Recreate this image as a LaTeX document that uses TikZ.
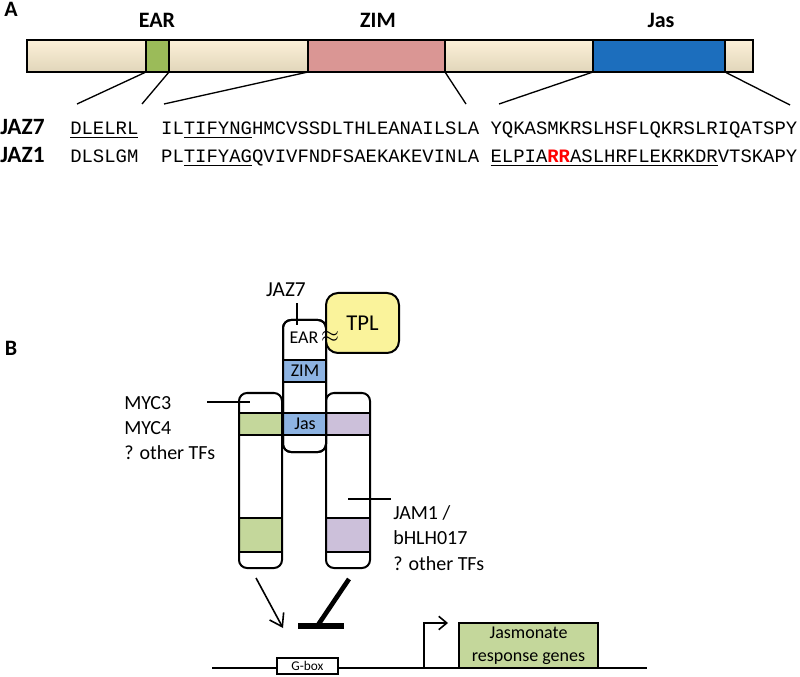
\documentclass[tikz,border=0pt]{standalone}
\usepackage{fontspec}
\setmainfont{Carlito}
\newfontfamily\seqfont{Liberation Mono}
\usetikzlibrary{arrows.meta}

\definecolor{barcream}{RGB}{252,240,216}
\definecolor{barcreamlow}{RGB}{225,214,186}
\definecolor{eargreen}{RGB}{155,187,89}
\definecolor{zimpink}{RGB}{218,150,148}
\definecolor{jasblue}{RGB}{28,110,189}
\definecolor{domblue}{RGB}{141,179,226}
\definecolor{mycgreen}{RGB}{196,215,155}
\definecolor{jampurple}{RGB}{204,192,218}
\definecolor{tplyellow}{RGB}{250,243,155}

\tikzset{
  creamseg/.style={draw, line width=1pt, top color=barcream, bottom color=barcreamlow},
  domseg/.style={draw, line width=1pt},
  domlabel/.style={inner sep=0pt, font=\bfseries\fontsize{16.5}{20}\selectfont},
  rowlabel/.style={anchor=base west, inner sep=0pt, font=\bfseries\fontsize{17.5}{20}\selectfont},
  seqtext/.style={anchor=base west, inner sep=0pt, font=\seqfont\fontsize{14.2}{17}\selectfont},
  tfbox/.style={draw, line width=1.5pt, rounded corners=6pt},
  band/.style={draw, line width=1.5pt},
  tflabel/.style={anchor=west, align=left, inner sep=0pt, font=\fontsize{15}{19}\selectfont},
  domtext/.style={inner sep=0pt, font=\fontsize{13.5}{16}\selectfont},
}

\begin{document}
\begin{tikzpicture}[x=0.75pt,y=0.75pt,yscale=-1,xscale=1]
\useasboundingbox (0,0) rectangle (800,677);

% Text Node
\node[domlabel] (panA) at (11,9) {A};
% Text Node
\node[domlabel] (panB) at (11,348) {B};

%Shape: Rectangle (domain bar)
\draw[creamseg] (27,40) rectangle (146,72);
\draw[domseg, fill=eargreen] (146,40) rectangle (169,72);
\draw[creamseg] (169,40) rectangle (308,72);
\draw[domseg, fill=zimpink] (308,40) rectangle (445,72);
\draw[creamseg] (445,40) rectangle (593,72);
\draw[domseg, fill=jasblue] (593,40) rectangle (725,72);
\draw[creamseg] (725,40) rectangle (753,72);

% Text Node
\node[domlabel] (earA) at (157,20) {EAR};
\node[domlabel] (zimA) at (378,20) {ZIM};
\node[domlabel] (jasA) at (661,20) {Jas};

\coordinate (earL) at (146,72);
\coordinate (earR) at (169,72);
\coordinate (zimL) at (308,72);
\coordinate (zimR) at (445,72);
\coordinate (jasL) at (593,72);
\coordinate (jasR) at (725,72);
\coordinate (earLs) at (77,104);
\coordinate (earRs) at (142,104);
\coordinate (zimLs) at (164,104);
\coordinate (zimRs) at (466,104);
\coordinate (jasLs) at (499,104);
\coordinate (jasRs) at (790,105);

%Straight Lines
\draw[line width=1pt] (earL) -- (earLs);
\draw[line width=1pt] (earR) -- (earRs);
\draw[line width=1pt] (zimL) -- (zimLs);
\draw[line width=1pt] (zimR) -- (zimRs);
\draw[line width=1pt] (jasL) -- (jasLs);
\draw[line width=1pt] (jasR) -- (jasRs);

% Text Node (sequences)
\node[rowlabel] (jaz7) at (0,135) {JAZ7};
\node[seqtext] (j7ear) at (70,135) {\underline{DLELRL}};
\node[seqtext] (j7zim) at (160.9,135) {IL\underline{TIFYNG}HMCVSSDLTHLEANAILSLA};
\node[seqtext] (j7jas) at (490.3,135) {YQKASMKRSLHSFLQKRSLRIQATSPY};
\node[rowlabel] (jaz1) at (0,163) {JAZ1};
\node[seqtext] (j1ear) at (70,163) {DLSLGM};
\node[seqtext] (j1zim) at (160.9,163) {PL\underline{TIFYAG}QVIVFNDFSAEKAKEVINLA};
\node[seqtext] (j1jas) at (490.3,163) {\underline{ELPIA{\color{red}\bfseries RR}ASLHRFLEKRKDR}VTSKAPY};

%Shape: MYC box
\draw[band, fill=mycgreen] (239,413) rectangle (282,435);
\draw[band, fill=mycgreen] (239,518) rectangle (282,552);
\draw[tfbox] (239,393) rectangle (282,568);
%Shape: JAM box
\draw[band, fill=jampurple] (326,413) rectangle (370,435);
\draw[band, fill=jampurple] (326,518) rectangle (370,552);
\draw[tfbox] (326,393) rectangle (370,568);
%Shape: JAZ7 column
\draw[tfbox, fill=white] (283,320) rectangle (326,452);
\draw[band, fill=domblue] (283,360) rectangle (326,382);
\draw[band, fill=domblue] (283,413) rectangle (326,435);
\draw[tfbox] (283,320) rectangle (326,452);

% Text Node
\node[domtext] (earB) at (304,338) {EAR};
\node[domtext] (zimB) at (305,371) {ZIM};
\node[domtext] (jasB) at (305,424) {Jas};

% TPL
\node[draw, fill=tplyellow, line width=1.5pt, rounded corners=9pt,
      minimum width=54.75pt, minimum height=45pt,
      font=\fontsize{17}{20}\selectfont] (tpl) at (362.5,323) {TPL};
\node[inner sep=0pt, font=\fontsize{19}{19}\selectfont] (bind) at (330,337) {$\approx$};

% Text Node
\node[inner sep=0pt, font=\fontsize{16}{19}\selectfont] (jaz7B) at (286,290) {JAZ7};
\draw[line width=1pt] (jaz7B.south) ++(11,6) -- ++(0,22);

\node[tflabel] (myclab) at (124,428) {MYC3\\MYC4\\? other TFs};
\coordinate (mycL) at (207,402);
\coordinate (mycR) at (250,402);
\draw[line width=1pt] (mycL) -- (mycR);

\node[tflabel] (jamlab) at (393,538) {JAM1 /\\bHLH017\\? other TFs};
\coordinate (jamL) at (348,499);
\coordinate (jamR) at (391,499);
\draw[line width=1pt] (jamL) -- (jamR);

% activation / repression
\coordinate (act0) at (256,578);
\coordinate (act1) at (283,628);
\draw[line width=1.2pt, -{Straight Barb[length=9pt,width=12pt]}] (act0) -- (act1);
\coordinate (rep0) at (349,579);
\coordinate (rep1) at (318,625);
\coordinate (repL) at (298,626);
\coordinate (repR) at (344,626);
\draw[line width=3.5pt] (rep0) -- (rep1);
\draw[line width=4pt] (repL) -- (repR);

% promoter
\coordinate (dnaL) at (212,668);
\coordinate (dnaR) at (647,668);
\draw[line width=1.5pt] (dnaL) -- (dnaR);
\node[draw, fill=white, line width=1pt, inner sep=0pt, minimum width=45.75pt, minimum height=12pt,
      font=\fontsize{10}{10}\selectfont] (gbox) at (307.5,666) {G-box};
\node[draw, fill=mycgreen, line width=1.5pt, inner sep=0pt, minimum width=104.25pt, minimum height=33.75pt,
      align=center, font=\fontsize{13.5}{17}\selectfont] (genes) at (528.5,645.5) {Jasmonate\\response genes};
\coordinate (tss) at (424,668);
\coordinate (tssend) at (448,623);
\draw[line width=1.2pt, -{Straight Barb[length=6pt,width=10pt]}] (tss) |- (tssend);
\end{tikzpicture}
\end{document}
